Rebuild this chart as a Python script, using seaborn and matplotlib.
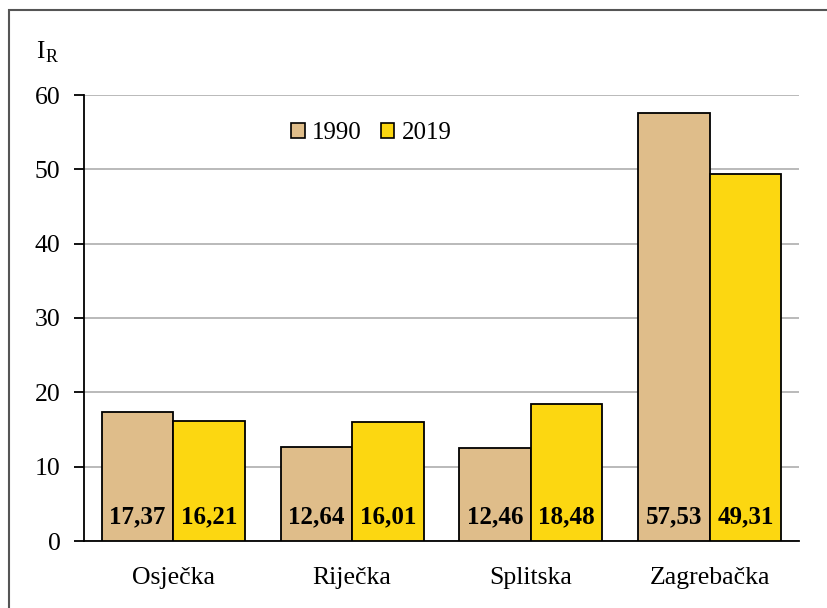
import numpy as np
import pandas as pd
import matplotlib
matplotlib.use("Agg")
import matplotlib.pyplot as plt
from matplotlib.patches import Rectangle
import seaborn as sns

# data
regions = ["Osječka", "Riječka", "Splitska", "Zagrebačka"]
years = ["1990", "2019"]
ir_1990 = [17.37, 12.64, 12.46, 57.53]
ir_2019 = [16.21, 16.01, 18.48, 49.31]
yticks = [0, 10, 20, 30, 40, 50, 60]

colors = {"1990": "#DFBD8A", "2019": "#FCD711"}

df = pd.DataFrame({
    "region": regions * 2,
    "year": ["1990"] * len(regions) + ["2019"] * len(regions),
    "value": ir_1990 + ir_2019,
})

sns.set_theme(style="white")
plt.rcParams["font.family"] = ["Liberation Serif", "DejaVu Serif"]
plt.rcParams["text.color"] = "black"
plt.rcParams["xtick.labelcolor"] = "black"
plt.rcParams["ytick.labelcolor"] = "black"

fig = plt.figure(figsize=(8.28, 6.08), dpi=100)
ax = fig.add_axes([84 / 828, 1 - 541 / 608, (799 - 84) / 828, (541 - 95) / 608])

sns.barplot(data=df, x="region", y="value", hue="year", order=regions,
            hue_order=years, palette=colors, width=0.8, gap=0,
            edgecolor="black", linewidth=1.3, saturation=1, ax=ax, zorder=3)

# value labels inside bars near the base
for cont in ax.containers:
    for bar in cont:
        h = bar.get_height()
        ax.text(bar.get_x() + bar.get_width() / 2, 3.2, f"{h:.2f}".replace(".", ","),
                ha="center", va="center", fontsize=18, fontweight="bold",
                color="black", zorder=5)

ax.set_ylim(0, 60)
ax.set_xlim(-0.5, len(regions) - 0.5)
ax.set_yticks(yticks)
ax.yaxis.grid(True, color="#B4B4B4", linewidth=1.3, zorder=0)
ax.set_axisbelow(True)

ax.set_xticks(np.arange(len(regions)))
ax.set_xticklabels(regions)
ax.tick_params(axis="x", length=0, pad=19, labelsize=18.5, labelcolor="black")
ax.set_xticks(np.arange(len(regions) + 1) - 0.5, minor=True)
ax.tick_params(axis="x", which="minor", length=7, width=1.3, color="black", direction="out")
ax.tick_params(axis="y", length=7, width=1.3, color="black", direction="out",
               pad=10, labelsize=18.5, left=True, labelcolor="black")

for s in ["top", "right"]:
    ax.spines[s].set_visible(False)
for s in ["left", "bottom"]:
    ax.spines[s].set_color("black")
    ax.spines[s].set_linewidth(1.3)

ax.set_xlabel("")
ax.set_ylabel("")

leg = ax.legend(loc="upper left", bbox_to_anchor=(0.265, 0.978), ncol=2, frameon=False,
                fontsize=18, handlelength=0.55, handleheight=0.55,
                handletextpad=0.3, columnspacing=0.75, borderaxespad=0.3)
for h in leg.legend_handles:
    h.set_edgecolor("black")
    h.set_linewidth(1.2)
for t in leg.get_texts():
    t.set_color("black")

# y-axis label I_R
fig.text(36 / 828, 1 - 58 / 608, "I", fontsize=18, ha="left", va="baseline", color="black")
fig.text(46 / 828, 1 - 62 / 608, "R", fontsize=13, ha="left", va="baseline", color="black")

# outer frame
fig.patches.append(Rectangle((9 / 828, -0.1), 1.2, 1 - 10 / 608 + 0.1,
                             transform=fig.transFigure, fill=False,
                             edgecolor="#555555", linewidth=1.5))

fig.savefig("out.png", dpi=100)
